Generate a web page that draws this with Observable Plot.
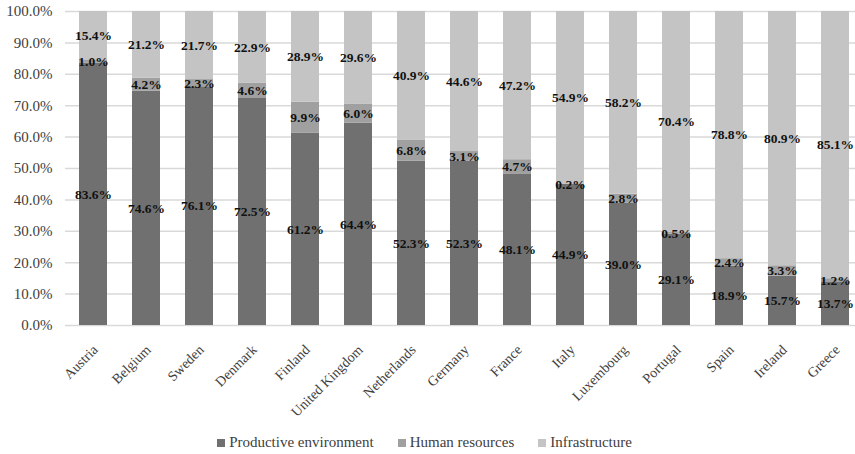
<!DOCTYPE html>
<html>
<head>
<meta charset="utf-8">
<script src="https://cdn.jsdelivr.net/npm/d3@7"></script>
<script src="https://cdn.jsdelivr.net/npm/@observablehq/plot@0.6"></script>
<style>
  body { margin: 0; background: #fff; font-family: "Liberation Serif", "Times New Roman", serif; }
  #legend { display: flex; justify-content: center; gap: 24px; font-family: "Liberation Serif", "Times New Roman", serif; font-size: 15px; color: #404040; height: 24px; align-items: center; padding-right: 6px; }
  #legend span.sw { display: inline-block; width: 8px; height: 8px; margin-right: 4px; }
</style>
</head>
<body>
<div id="chart"></div>
<div id="legend"></div>
<script>
const countries = ["Austria","Belgium","Sweden","Denmark","Finland","United Kingdom","Netherlands","Germany","France","Italy","Luxembourg","Portugal","Spain","Ireland","Greece"];
const categories = ["Productive environment","Human resources","Infrastructure"];
const productive = [83.6,74.6,76.1,72.5,61.2,64.4,52.3,52.3,48.1,44.9,39.0,29.1,18.9,15.7,13.7];
const human = [1.0,4.2,2.3,4.6,9.9,6.0,6.8,3.1,4.7,0.2,2.8,0.5,2.4,3.3,1.2];
const infrastructure = [15.4,21.2,21.7,22.9,28.9,29.6,40.9,44.6,47.2,54.9,58.2,70.4,78.8,80.9,85.1];
const colors = ["#707070","#a0a0a0","#c4c4c4"];
const yTicks = [0,0.1,0.2,0.3,0.4,0.5,0.6,0.7,0.8,0.9,1.0];

const series = [productive, human, infrastructure];
const data = [];
categories.forEach((cat, j) => {
  countries.forEach((c, i) => data.push({country: c, category: cat, value: series[j][i]}));
});

const chart = Plot.plot({
  width: 855,
  height: 430,
  marginTop: 11,
  marginBottom: 105,
  marginLeft: 65,
  marginRight: 0,
  style: {fontFamily: "'Liberation Serif', 'Times New Roman', serif", background: "#fff"},
  x: {domain: countries, range: [65.5, 862.5], paddingInner: 0.47, paddingOuter: 0.235, label: null},
  y: {domain: [0, 1], label: null},
  color: {domain: categories, range: colors},
  marks: [
    Plot.gridY(yTicks, {stroke: "#d9d9d9", strokeOpacity: 1, strokeWidth: 1.5}),
    Plot.barY(data, {x: "country", y: "value", fill: "category", z: "category", offset: "normalize"}),
    Plot.text(data, Plot.stackY({x: "country", y: "value", z: "category", offset: "normalize",
      text: d => d.value.toFixed(1) + "%", fontWeight: "bold", fontSize: 13.5, fill: "#111"})),
    Plot.axisY({ticks: yTicks, tickSize: 0, tickPadding: 13, tickFormat: d => (d * 100).toFixed(1) + "%", fontSize: 15, color: "#404040"}),
    Plot.axisX({tickSize: 0, tickRotate: -45, tickPadding: 22, dx: 2, fontSize: 14, color: "#404040"})
  ]
});
document.getElementById("chart").appendChild(chart);

const legend = document.getElementById("legend");
categories.forEach((cat, j) => {
  const item = document.createElement("div");
  item.innerHTML = `<span class="sw" style="background:${colors[j]}"></span>${cat}`;
  legend.appendChild(item);
});
</script>
</body>
</html>
